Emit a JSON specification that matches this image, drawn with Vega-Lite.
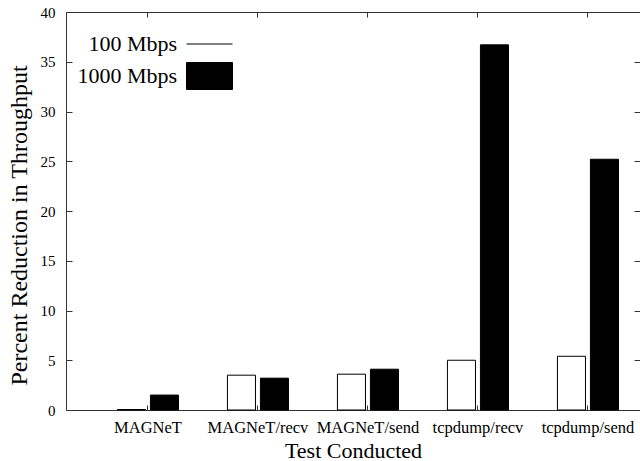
{
  "$schema": "https://vega.github.io/schema/vega-lite/v6.json",
  "width": 574,
  "height": 398,
  "autosize": {"type": "none"},
  "padding": {"left": 66, "top": 12, "right": 0, "bottom": 51},
  "background": "white",
  "config": {
    "view": {"stroke": null},
    "font": "Liberation Serif",
    "axis": {
      "grid": false,
      "domainColor": "#333333",
      "tickColor": "#333333",
      "labelColor": "black",
      "titleColor": "black",
      "labelFont": "Liberation Serif",
      "titleFont": "Liberation Serif",
      "titleFontWeight": "normal"
    },
    "legend": {
      "orient": "none",
      "legendX": 120,
      "legendY": 10,
      "padding": 0,
      "labelFont": "Liberation Serif",
      "labelFontSize": 22,
      "labelColor": "black",
      "labelAlign": "right",
      "labelOffset": -56,
      "labelLimit": 0,
      "symbolType": "M-1,-0.587H1V0.587H-1Z",
      "symbolSize": 2116,
      "symbolStrokeColor": "black",
      "symbolStrokeWidth": 1,
      "rowPadding": 0
    }
  },
  "data": {
    "values": [
      {"test": "MAGNeT", "speed": "100 Mbps", "value": 0.05},
      {"test": "MAGNeT", "speed": "1000 Mbps", "value": 1.5},
      {"test": "MAGNeT/recv", "speed": "100 Mbps", "value": 3.5},
      {"test": "MAGNeT/recv", "speed": "1000 Mbps", "value": 3.2},
      {"test": "MAGNeT/send", "speed": "100 Mbps", "value": 3.6},
      {"test": "MAGNeT/send", "speed": "1000 Mbps", "value": 4.1},
      {"test": "tcpdump/recv", "speed": "100 Mbps", "value": 5.0},
      {"test": "tcpdump/recv", "speed": "1000 Mbps", "value": 36.7},
      {"test": "tcpdump/send", "speed": "100 Mbps", "value": 5.4},
      {"test": "tcpdump/send", "speed": "1000 Mbps", "value": 25.2}
    ]
  },
  "layer": [
    {
      "mark": {"type": "bar", "stroke": "black", "strokeWidth": 1},
      "encoding": {
        "x": {
          "field": "test",
          "type": "nominal",
          "sort": ["MAGNeT", "MAGNeT/recv", "MAGNeT/send", "tcpdump/recv", "tcpdump/send"],
          "scale": {"paddingInner": 0.445, "paddingOuter": 0.3316, "align": 0.705},
          "axis": {
            "orient": "bottom",
            "title": "Test Conducted",
            "titleFontSize": 22,
            "titleBaseline": "alphabetic",
            "titleY": 47,
            "labelAngle": 0,
            "labelFontSize": 16.5,
            "labelPadding": 14,
            "tickSize": -5,
            "domainWidth": 1
          }
        },
        "xOffset": {
          "field": "speed",
          "type": "nominal",
          "scale": {"paddingInner": 0.15, "paddingOuter": 0}
        },
        "y": {
          "field": "value",
          "type": "quantitative",
          "scale": {"domain": [0, 40], "nice": false},
          "axis": {
            "orient": "left",
            "title": "Percent Reduction in Throughput",
            "titleFontSize": 24,
            "titleBaseline": "alphabetic",
            "titleX": -40,
            "titleY": 213,
            "values": [0, 5, 10, 15, 20, 25, 30, 35, 40],
            "labelFontSize": 15,
            "labelPadding": 17,
            "tickSize": -6
          }
        },
        "color": {
          "field": "speed",
          "type": "nominal",
          "scale": {"domain": ["100 Mbps", "1000 Mbps"], "range": ["white", "black"]},
          "legend": {
            "title": null,
            "encode": {
              "symbols": {
                "update": {
                  "shape": {"signal": "datum.value === '100 Mbps' ? 'M-1,0H1' : 'M-1,-0.587H1V0.587H-1Z'"},
                  "y": {"signal": "22 - datum.index"}
                }
              },
              "labels": {
                "update": {
                  "y": {"signal": "22 - datum.index"}
                }
              }
            }
          }
        }
      }
    },
    {
      "mark": {"type": "bar", "opacity": 0},
      "encoding": {
        "x": {
          "field": "test",
          "type": "nominal",
          "sort": ["MAGNeT", "MAGNeT/recv", "MAGNeT/send", "tcpdump/recv", "tcpdump/send"],
          "axis": {
            "orient": "top",
            "title": null,
            "labels": false,
            "tickSize": -5,
            "domainWidth": 1
          }
        },
        "xOffset": {"field": "speed", "type": "nominal"},
        "y": {
          "field": "value",
          "type": "quantitative",
          "axis": {
            "orient": "right",
            "title": null,
            "labels": false,
            "domain": false,
            "values": [0, 5, 10, 15, 20, 25, 30, 35, 40],
            "tickSize": -6
          }
        }
      }
    }
  ],
  "resolve": {"axis": {"x": "independent", "y": "independent"}}
}
